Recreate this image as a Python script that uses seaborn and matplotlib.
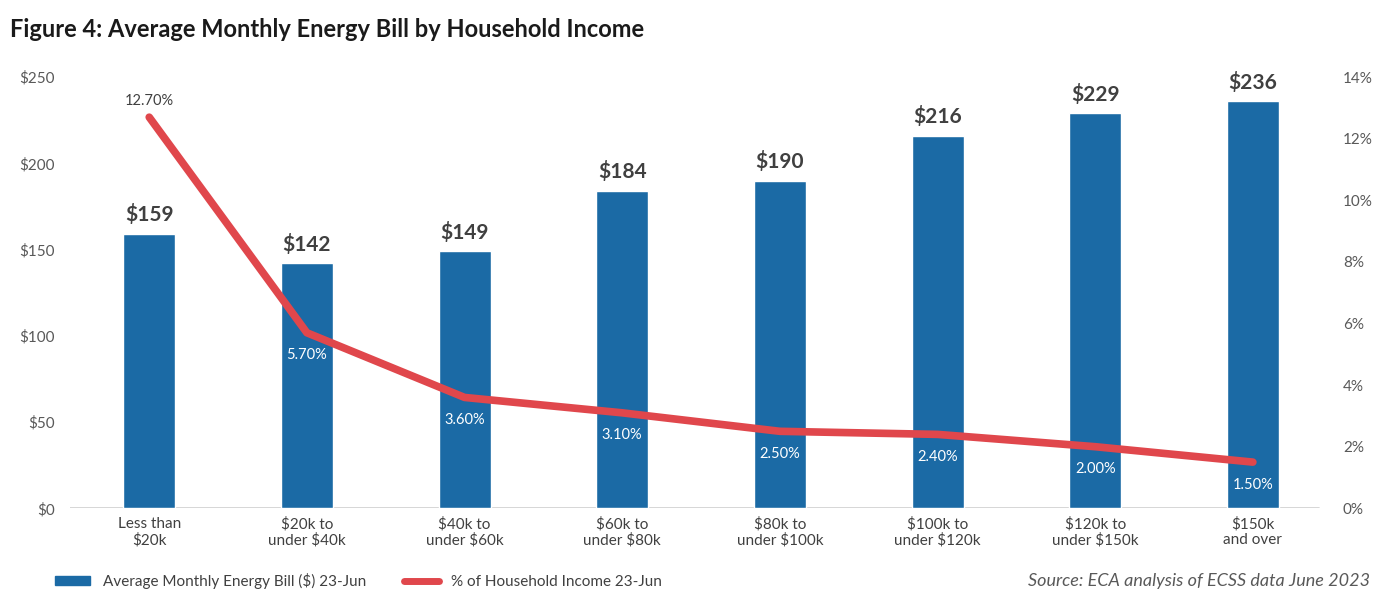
import matplotlib
matplotlib.use("Agg")
import matplotlib.pyplot as plt
import seaborn as sns
import pandas as pd
from matplotlib.lines import Line2D
from matplotlib.patches import Patch

# Chart data
categories = ["Less than\n$20k", "$20k to\nunder $40k", "$40k to\nunder $60k", "$60k to\nunder $80k",
              "$80k to\nunder $100k", "$100k to\nunder $120k", "$120k to\nunder $150k", "$150k\nand over"]
bill = [159, 142, 149, 184, 190, 216, 229, 236]
pct_income = [12.70, 5.70, 3.60, 3.10, 2.50, 2.40, 2.00, 1.50]

bar_color = "#1b6aa5"
line_color = "#e0474c"
text_color = "#595959"

sns.set_theme(style="white")
plt.rcParams['font.family'] = ['Lato', 'DejaVu Sans']

df = pd.DataFrame({"income": categories, "bill": bill, "pct": pct_income})

fig = plt.figure(figsize=(13.8, 5.98), dpi=100)
ax = fig.add_axes([0.051, 0.150, 0.914, 0.721])

sns.barplot(data=df, x="income", y="bill", color=bar_color, width=0.33, saturation=1, ax=ax)
ax.set_ylim(0, 250)
ax.set_xlim(-0.5, len(categories) - 0.5)
ax.set_yticks(range(0, 251, 50))
ax.set_yticklabels([f"${v}" for v in range(0, 251, 50)], color=text_color, fontsize=11)
ax.set_xlabel("")
ax.set_ylabel("")
ax.tick_params(axis="x", colors="#404040", labelsize=11, length=0, pad=6)
ax.tick_params(axis="y", length=0, pad=11)
for s in ax.spines.values():
    s.set_visible(False)
ax.axhline(0, xmax=0.99, color="#d0d0d0", lw=1.2, zorder=0)

# value labels above bars
for i, v in enumerate(bill):
    ax.text(i, v + 5, f"${v}", ha="center", va="bottom", fontsize=15, fontweight="bold", color="#404040")

ax2 = ax.twinx()
sns.lineplot(x=list(range(len(categories))), y=pct_income, color=line_color, lw=5.5, ax=ax2)
ax2.set_ylim(0, 14)
ax2.set_yticks(range(0, 15, 2))
ax2.set_yticklabels([f"{v}%" for v in range(0, 15, 2)], color=text_color, fontsize=11)
ax2.tick_params(axis="y", length=0, pad=8)
for s in ax2.spines.values():
    s.set_visible(False)

for i, p in enumerate(pct_income):
    if i == 0:
        ax2.text(i, p + 0.3, f"{p:.2f}%", ha="center", va="bottom", fontsize=10.5, color="#404040")
    else:
        ax2.text(i, p - 0.5, f"{p:.2f}%", ha="center", va="top", fontsize=10.5, color="white")

fig.text(0.007, 0.95, "Figure 4: Average Monthly Energy Bill by Household Income",
         fontsize=17, fontweight="bold", color="#1a1a1a", va="center")

handles = [Patch(color=bar_color), Line2D([0], [0], color=line_color, lw=5, solid_capstyle="round")]
labels = ["Average Monthly Energy Bill ($) 23-Jun", "% of Household Income 23-Jun"]
fig.legend(handles, labels, loc="center left", bbox_to_anchor=(0.03, 0.028), ncol=2, frameon=False,
           fontsize=11, handlelength=2.3, handleheight=0.5, columnspacing=2.5, labelcolor="#404040")

fig.text(0.993, 0.028, "Source: ECA analysis of ECSS data June 2023", ha="right", va="center",
         fontsize=13, style="italic", color="#595959")

fig.savefig("out.png", dpi=100)
